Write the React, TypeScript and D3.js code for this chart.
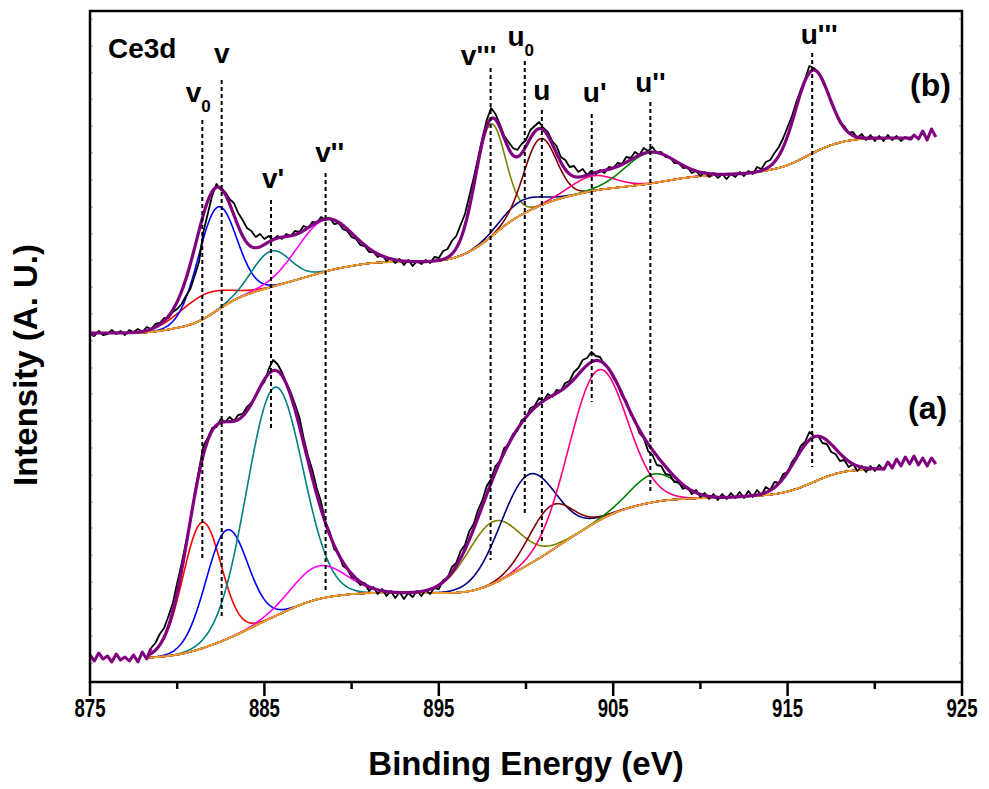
import React from "react";
import * as d3 from "d3";

const W = 989;
const H = 789;
const PLOT = { left: 90, right: 962, top: 11, bottom: 682 };

const xDomain = [875, 925];
const yDomain = [0, 671];
const xMajorTicks = [875, 885, 895, 905, 915, 925];
const xMinorTicks = [880, 890, 900, 910, 920];
const yMinorTicks = [663, 636, 609, 583, 556, 529, 502, 475, 448, 422, 395, 368, 341, 314, 288, 261, 234, 207, 180, 154, 127, 100, 73, 46, 19];

// raw spectra, 0.25 eV steps from 875 eV (arbitrary intensity units)
const rawStart = 875;
const rawStep = 0.25;
const rawA = [
  27, 21, 29, 23, 26, 20, 28, 22, 25, 21, 27, 20, 30, 23, 34, 39, 48, 54, 66, 79,
  99, 118, 139, 160, 188, 212, 236, 244, 254, 255, 263, 260, 265, 261, 267, 268, 275, 279, 286, 295,
  300, 313, 322, 318, 310, 299, 290, 278, 265, 244, 226, 212, 194, 180, 160, 150, 133, 129, 116, 113,
  105, 103, 97, 99, 91, 95, 88, 93, 86, 91, 84, 90, 83, 89, 85, 91, 86, 92, 88, 94,
  93, 102, 104, 115, 119, 131, 137, 151, 158, 172, 182, 196, 203, 216, 221, 234, 237, 248, 251, 262,
  264, 274, 276, 284, 281, 288, 285, 292, 291, 299, 301, 310, 314, 322, 324, 330, 326, 325, 317, 314,
  304, 298, 286, 281, 268, 262, 249, 244, 231, 227, 217, 216, 208, 207, 200, 200, 193, 195, 188, 192,
  185, 189, 183, 188, 182, 188, 183, 189, 184, 190, 184, 191, 185, 192, 187, 195, 192, 200, 199, 208,
  210, 220, 226, 236, 240, 250, 246, 246, 239, 238, 230, 228, 221, 222, 215, 218, 211, 216, 210, 216,
  211, 217, 212, 220, 214, 223, 216, 225, 218, 226, 217, 224, 216, 224, 218
];
const rawB = [
  349, 346, 351, 347, 348, 352, 348, 351, 347, 352, 350, 353, 350, 355, 353, 358, 359, 364, 364, 370,
  373, 378, 386, 393, 406, 420, 450, 468, 486, 498, 492, 490, 483, 479, 469, 462, 454, 451, 445, 448,
  443, 446, 442, 446, 443, 448, 446, 451, 450, 456, 454, 460, 459, 465, 462, 464, 458, 459, 453, 451,
  445, 443, 437, 436, 430, 430, 425, 427, 421, 424, 419, 423, 417, 422, 416, 421, 418, 422, 419, 425,
  424, 431, 433, 441, 446, 457, 468, 486, 504, 524, 544, 562, 574, 568, 558, 546, 540, 534, 532, 538,
  542, 552, 556, 560, 554, 550, 541, 536, 525, 522, 515, 516, 510, 513, 507, 511, 508, 512, 509, 515,
  514, 519, 518, 525, 524, 530, 527, 534, 531, 535, 529, 530, 525, 525, 519, 519, 514, 515, 509, 511,
  506, 510, 505, 509, 504, 508, 503, 508, 505, 510, 506, 511, 508, 515, 513, 520, 522, 529, 535, 544,
  555, 566, 580, 592, 603, 616, 614, 610, 601, 592, 579, 570, 559, 556, 549, 550, 544, 548, 542, 547,
  541, 546, 541, 547, 542, 546, 541, 545, 542, 547, 543, 551, 542, 553, 545
];

// Shirley-type backgrounds, 1 eV steps from 875 eV
const bgStart = 875;
const bgA = [
  24, 24, 24, 24, 25, 27, 31, 37, 44, 52, 61, 69, 77, 83, 86, 88, 89, 89, 89, 89,
  89, 89, 91, 97, 106, 116, 126, 138, 149, 160, 169, 175, 179, 182, 183, 184, 184, 185, 186, 187,
  190, 196, 204, 210, 212, 213, 213, 213, 213
];
const bgB = [
  349, 349, 349, 349, 351, 354, 358, 368, 380, 388, 393, 398, 403, 408, 413, 416, 419, 420, 420, 420,
  421, 424, 432, 445, 460, 470, 478, 484, 488, 492, 494, 496, 498, 501, 504, 506, 507, 508, 509, 512,
  516, 525, 534, 540, 543, 544, 544, 544, 544
];

// fitted components: v0, v, v', v'', v''', u0, u, u', u'', u'''
const peakColors = ["#FF0000", "#0000FF", "#008080", "#FF00FF", "#808000", "#000080", "#800000", "#FF0080", "#008000", "#800080"];
const centersA = [881.42, 882.84, 885.57, 888.09, 898.1, 900.09, 901.4, 904.1, 907.33, 916.5];
const heightsA = [126, 109, 229, 33, 62, 90, 45, 151, 28, 45];
const sigmasA = [1.1, 1.2, 1.6, 1.55, 1.5, 1.6, 1.26, 1.65, 1.32, 1.15];
const centersB = [881.42, 882.28, 885.38, 888.47, 897.94, 899.7, 900.8, 903.78, 907.1, 916.4];
const heightsB = [24, 103, 36, 52, 113, 14, 67, 15, 31, 83];
const sigmasB = [1.38, 1.1, 1.09, 1.6, 0.86, 1.15, 0.92, 1.26, 1.43, 0.97];

const fitRangeA = [878.3, 920.6];
const compRangeA = [878.3, 920.6];
const fitRangeB = [875, 922.2];
const compRangeB = [877.7, 922.2];

// peak position markers
const markerE = [881.44, 882.55, 885.38, 888.51, 897.97, 899.93, 900.91, 903.77, 907.13, 916.41];
const markerTop = [562, 602, 482, 509, 614, 621, 572, 568, 580, 629];
const markerBottom = [122, 65, 252, 92, 122, 167, 140, 280, 189, 215];
const labelMain = ["v", "v", "v'", "v''", "v'''", "u", "u", "u'", "u''", "u'''"];
const labelSub = ["0", "", "", "", "", "0", "", "", "", ""];
const labelBase = [580, 619, 494, 520, 617, 636, 582, 580, 590, 638];
const labelDx = [-4, 0, 2, 4, -12, -4, 0, 3, 0, 7];

const FONT = "'Liberation Sans', Arial, Helvetica, sans-serif";

export default function App() {
  const x = d3.scaleLinear().domain(xDomain).range([PLOT.left, PLOT.right]);
  const y = d3.scaleLinear().domain(yDomain).range([PLOT.bottom, PLOT.top]);
  const line = d3
    .line<[number, number]>()
    .x((d) => x(d[0]))
    .y((d) => y(d[1]));

  const makeSpectrum = (
    raw: number[],
    bg: number[],
    centers: number[],
    heights: number[],
    sigmas: number[],
    fitRange: number[],
    compRange: number[]
  ) => {
    const interp = d3.interpolateBasis(bg);
    const bgEnd = bgStart + bg.length - 1;
    const bgAt = (e: number) => interp((e - bgStart) / (bgEnd - bgStart));
    const g = (i: number, e: number) =>
      heights[i] * Math.exp(-((e - centers[i]) ** 2) / (2 * sigmas[i] ** 2));
    const fitE = d3.range(fitRange[0], fitRange[1] + 1e-9, 0.04);
    const compE = d3.range(compRange[0], compRange[1] + 1e-9, 0.04);
    const envelope = fitE.map((e) => [e, bgAt(e) + d3.sum(centers, (_, i) => g(i, e))] as [number, number]);
    const background = compE.map((e) => [e, bgAt(e)] as [number, number]);
    const comps = centers.map((_, i) => compE.map((e) => [e, bgAt(e) + g(i, e)] as [number, number]));
    const rawPts = raw.map((v, i) => [rawStart + i * rawStep, v] as [number, number]);
    const inFit = rawPts.filter((p) => p[0] >= fitRange[0] - 1e-9 && p[0] <= fitRange[1] + 1e-9);
    const before = rawPts.filter((p) => p[0] <= fitRange[0] + rawStep);
    const after = rawPts.filter((p) => p[0] >= fitRange[1] - rawStep);
    return { envelope, background, comps, inFit, before, after };
  };

  const specA = makeSpectrum(rawA, bgA, centersA, heightsA, sigmasA, fitRangeA, compRangeA);
  const specB = makeSpectrum(rawB, bgB, centersB, heightsB, sigmasB, fitRangeB, compRangeB);

  const renderSpec = (s: ReturnType<typeof makeSpectrum>, key: string) => (
    <g key={key}>
      {s.comps.map((c, i) =>
        i === 9 ? null : (
          <path key={i} d={line(c) || ""} fill="none" stroke={peakColors[i]} strokeWidth={1.6} />
        )
      )}
      <path d={line(s.background) || ""} fill="none" stroke="#F29A2E" strokeWidth={2} />
      <path d={line(s.inFit) || ""} fill="none" stroke="#000" strokeWidth={1.8} strokeLinejoin="round" />
      <path d={line(s.envelope) || ""} fill="none" stroke="#800080" strokeWidth={3.2} strokeLinejoin="round" />
      {s.before.length > 1 && (
        <path d={line(s.before) || ""} fill="none" stroke="#800080" strokeWidth={3} strokeLinejoin="round" />
      )}
      {s.after.length > 1 && (
        <path d={line(s.after) || ""} fill="none" stroke="#800080" strokeWidth={3} strokeLinejoin="round" />
      )}
    </g>
  );

  return (
    <svg width={W} height={H} style={{ display: "block", position: "absolute", left: 0, top: 0, background: "#fff" }}>
      <rect x={0} y={0} width={W} height={H} fill="#fff" />
      <defs>
        <clipPath id="plotclip">
          <rect x={PLOT.left} y={PLOT.top} width={PLOT.right - PLOT.left} height={PLOT.bottom - PLOT.top} />
        </clipPath>
      </defs>
      <g clipPath="url(#plotclip)">
        {renderSpec(specA, "a")}
        {renderSpec(specB, "b")}
        {markerE.map((e, i) => (
          <line
            key={i}
            x1={x(e)}
            x2={x(e)}
            y1={y(markerTop[i])}
            y2={y(markerBottom[i])}
            stroke="#000"
            strokeWidth={2}
            strokeDasharray="4 3"
          />
        ))}
      </g>
      {yMinorTicks.map((t, i) => (
        <g key={i}>
          <line x1={PLOT.left} x2={PLOT.left + 3} y1={y(t)} y2={y(t)} stroke="#999" strokeWidth={1} />
          <line x1={PLOT.right - 3} x2={PLOT.right} y1={y(t)} y2={y(t)} stroke="#999" strokeWidth={1} />
        </g>
      ))}
      <rect
        x={PLOT.left}
        y={PLOT.top}
        width={PLOT.right - PLOT.left}
        height={PLOT.bottom - PLOT.top}
        fill="none"
        stroke="#000"
        strokeWidth={2.5}
      />
      {xMajorTicks.map((t) => (
        <g key={t}>
          <line x1={x(t)} x2={x(t)} y1={PLOT.bottom} y2={PLOT.bottom + 14} stroke="#000" strokeWidth={2.5} />
          <text
            x={x(t)}
            y={717}
            textAnchor="middle"
            fontFamily={FONT}
            fontWeight="bold"
            fontSize={26}
            textLength={31}
            lengthAdjust="spacingAndGlyphs"
          >
            {t}
          </text>
        </g>
      ))}
      {xMinorTicks.map((t) => (
        <line key={t} x1={x(t)} x2={x(t)} y1={PLOT.bottom} y2={PLOT.bottom + 7} stroke="#000" strokeWidth={2.5} />
      ))}
      <text x={(PLOT.left + PLOT.right) / 2} y={775} textAnchor="middle" fontFamily={FONT} fontWeight="bold" fontSize={33}>
        Binding Energy (eV)
      </text>
      <text
        transform="translate(37,365) rotate(-90)"
        textAnchor="middle"
        fontFamily={FONT}
        fontWeight="bold"
        fontSize={33}
      >
        Intensity (A. U.)
      </text>
      <text x={108} y={58} fontFamily={FONT} fontWeight="bold" fontSize={28}>
        Ce3d
      </text>
      <text x={910} y={96} fontFamily={FONT} fontWeight="bold" fontSize={32}>
        (b)
      </text>
      <text x={908} y={419} fontFamily={FONT} fontWeight="bold" fontSize={32}>
        (a)
      </text>
      {labelMain.map((m, i) => (
        <text
          key={i}
          x={x(markerE[i]) + labelDx[i]}
          y={y(labelBase[i])}
          textAnchor="middle"
          fontFamily={FONT}
          fontWeight="bold"
          fontSize={28}
        >
          {m}
          {labelSub[i] && (
            <tspan fontSize={17} dy={10}>
              {labelSub[i]}
            </tspan>
          )}
        </text>
      ))}
    </svg>
  );
}
